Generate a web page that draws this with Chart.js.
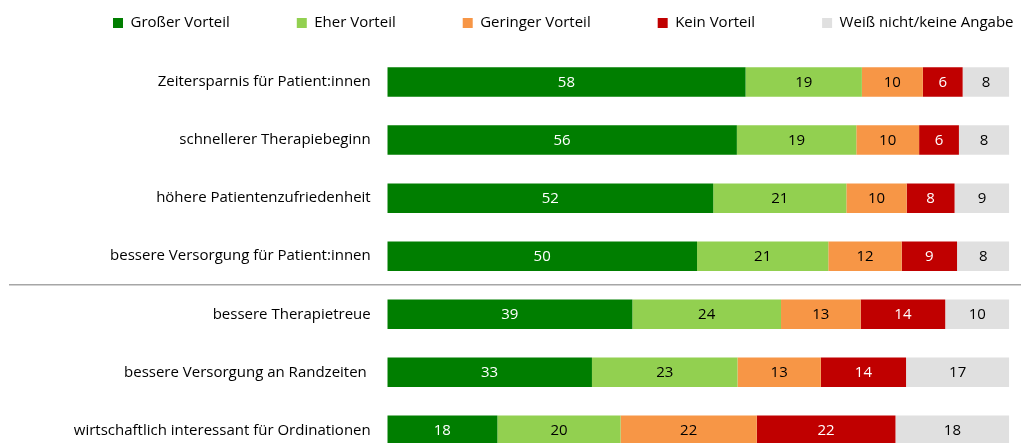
<!DOCTYPE html>
<html>
<head>
<meta charset="utf-8">
<script src="https://cdn.jsdelivr.net/npm/chart.js@4.4.1/dist/chart.umd.min.js"></script>
<style>
  html, body { margin: 0; padding: 0; background: #ffffff; overflow: hidden; }
  #c { display: block; }
</style>
</head>
<body>
<canvas id="c" width="1021" height="485"></canvas>
<script>
const categories = [
  "Zeitersparnis für Patient:innen",
  "schnellerer Therapiebeginn",
  "höhere Patientenzufriedenheit",
  "bessere Versorgung für Patient:innen",
  "bessere Therapietreue",
  "bessere Versorgung an Randzeiten ",
  "wirtschaftlich interessant für Ordinationen"
];
const seriesNames = ["Großer Vorteil", "Eher Vorteil", "Geringer Vorteil", "Kein Vorteil", "Weiß nicht/keine Angabe"];
const grosserVorteil  = [57.6, 56.2, 52.4, 49.8, 39.4, 32.9, 17.7];
const eherVorteil     = [18.7, 19.2, 21.4, 21.1, 23.9, 23.4, 19.8];
const geringerVorteil = [9.8, 10.1, 9.7, 11.8, 12.8, 13.4, 21.9];
const keinVorteil     = [6.4, 6.4, 7.7, 8.9, 13.6, 13.7, 22.3];
const weissNicht      = [7.5, 8.1, 8.8, 8.4, 10.3, 16.6, 18.3];

const colors = ["#007E00", "#92D050", "#F79646", "#C00000", "#E0E0E0"];
const labelColors = ["#ffffff", "#000000", "#000000", "#ffffff", "#000000"];
const FONT = "'Open Sans', sans-serif";
const FS = 15;

const seriesData = [grosserVorteil, eherVorteil, geringerVorteil, keinVorteil, weissNicht];

const legendPlacement = {
  id: 'legendPlacement',
  beforeUpdate(chart) {
    const lg = chart.legend;
    if (lg && !lg._patched) {
      const orig = lg.fit;
      lg.fit = function () { orig.call(this); this.height = 53; };
      lg._patched = true;
    }
  },
  afterLayout(chart) {
    const lg = chart.legend;
    if (!lg) return;
    const pad = lg.options.labels.padding;
    lg.left = 113 - pad;
    lg.right = 3000;
    lg.top = 15.5 - pad;
  }
};

const valueLabels = {
  id: 'valueLabels',
  afterDatasetsDraw(chart) {
    const ctx = chart.ctx;
    ctx.save();
    ctx.font = FS + "px " + FONT;
    ctx.textAlign = 'center';
    ctx.textBaseline = 'middle';
    chart.data.datasets.forEach((ds, di) => {
      const meta = chart.getDatasetMeta(di);
      meta.data.forEach((el, i) => {
        const p = el.getProps(['x', 'y', 'base'], true);
        ctx.fillStyle = labelColors[di];
        ctx.fillText(String(Math.round(ds.data[i])), (p.x + p.base) / 2, p.y + 0.5);
      });
    });
    ctx.restore();
  }
};

const separator = {
  id: 'separator',
  afterDraw(chart) {
    const y = chart.scales.y;
    const py = (y.getPixelForValue(3) + y.getPixelForValue(4)) / 2 - 0.5;
    const ctx = chart.ctx;
    ctx.save();
    ctx.strokeStyle = '#A6A6A6';
    ctx.lineWidth = 1.3;
    ctx.beginPath();
    ctx.moveTo(9, py);
    ctx.lineTo(chart.width, py);
    ctx.stroke();
    ctx.restore();
  }
};

new Chart(document.getElementById('c'), {
  type: 'bar',
  data: {
    labels: categories,
    datasets: seriesData.map((d, i) => ({
      label: seriesNames[i],
      data: d,
      backgroundColor: colors[i],
      borderWidth: 0,
      categoryPercentage: 1,
      barPercentage: 0.508
    }))
  },
  options: {
    indexAxis: 'y',
    responsive: false,
    animation: false,
    layout: { padding: { left: 0, right: 11.7, top: 0, bottom: 10.3 } },
    scales: {
      x: { stacked: true, min: 0, max: 100, display: false },
      y: {
        stacked: true,
        border: { display: false },
        grid: { display: false, drawTicks: false },
        ticks: { color: '#000000', font: { family: FONT, size: FS }, padding: 16.6 },
        afterFit(scale) { scale.width = 387.3; }
      }
    },
    plugins: {
      legend: {
        position: 'top',
        align: 'start',
        labels: {
          boxWidth: 10,
          boxHeight: 10,
          padding: 67,
          color: '#000000',
          font: { family: FONT, size: FS }
        }
      },
      tooltip: { enabled: false }
    }
  },
  plugins: [legendPlacement, valueLabels, separator]
});
</script>
</body>
</html>
